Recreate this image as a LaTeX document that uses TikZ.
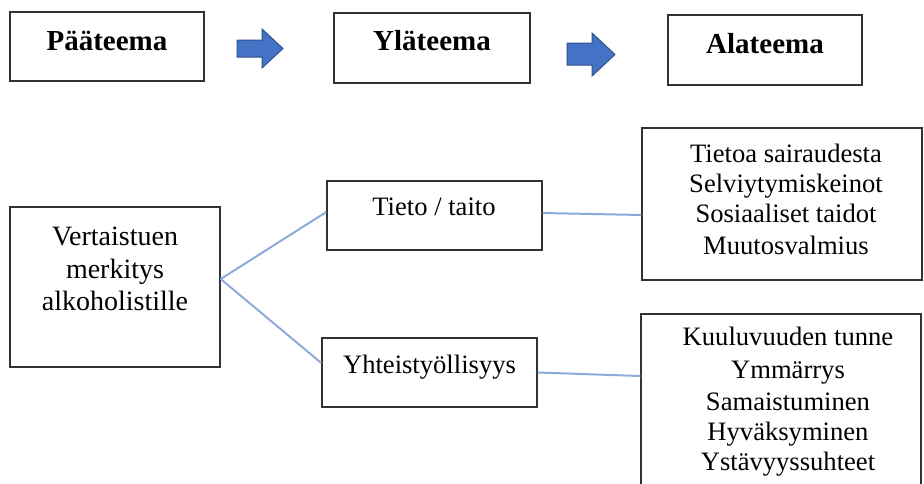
\documentclass[tikz,border=0pt]{standalone}
\usepackage{fontspec}
\setmainfont{Liberation Serif}
\definecolor{boxc}{HTML}{333333}
\definecolor{connc}{HTML}{8EAADB}
\definecolor{arrf}{HTML}{4472C4}
\definecolor{arrd}{HTML}{2F528F}
\begin{document}
\begin{tikzpicture}[x=1pt,y=-1pt,
  box/.style={draw=boxc,line width=1.4pt,inner sep=0pt,fill=white},
  hdr/.style={anchor=base,inner sep=0pt,font=\fontsize{29}{34}\selectfont\bfseries},
  txt/.style={anchor=base,inner sep=0pt,font=\fontsize{26.6}{31}\selectfont},
  bigtxt/.style={anchor=base,inner sep=0pt,font=\fontsize{28}{33}\selectfont},
  conn/.style={draw=connc,line width=2pt},
  blockarrow/.style={fill=arrf,draw=arrd,line width=1pt,line join=miter}]
\useasboundingbox (0,0) rectangle (924,483);
\begin{scope}
\clip (0,0) rectangle (924,483);
% header boxes
\node[box,minimum width=194pt,minimum height=69pt] (pb) at (107,46.5) {};
\node[box,minimum width=196pt,minimum height=70pt] (yb) at (432,48) {};
\node[box,minimum width=194pt,minimum height=70pt] (ab) at (765,50) {};
\node[hdr] (pt) at (107,50) {Pääteema};
\node[hdr] (yt) at (432,50) {Yläteema};
\node[hdr] (at) at (765,53) {Alateema};
% block arrows
\draw[blockarrow] (237,40) -- (262,40) -- (262,29) -- (283,48.5) -- (262,68) -- (262,57) -- (237,57) -- cycle;
\draw[blockarrow] (567,43) -- (592,43) -- (592,33) -- (615,54.5) -- (592,76) -- (592,65) -- (567,65) -- cycle;
% boxes
\node[box,minimum width=210pt,minimum height=160pt] (vb) at (115,287) {};
\node[box,minimum width=215pt,minimum height=69pt] (tb) at (434.5,215.5) {};
\node[box,minimum width=215pt,minimum height=69pt] (yh) at (429.5,372.5) {};
\node[box,minimum width=280pt,minimum height=152pt] (r1) at (782,204) {};
\node[box,minimum width=280pt,minimum height=186pt] (r2) at (781,407) {};
% connectors
\draw[conn] ([yshift=8pt]vb.east) -- ([yshift=3.5pt]tb.west);
\draw[conn] ([yshift=8pt]vb.east) -- ([yshift=9.5pt]yh.west);
\draw[conn] ([yshift=2.5pt]tb.east) -- ([yshift=-11pt]r1.west);
\draw[conn] (yh.east) -- ([yshift=31pt]r2.west);
% texts
\node[bigtxt] (v1) at (115,245) {Vertaistuen};
\node[bigtxt] (v2) at (115,278) {merkitys};
\node[bigtxt] (v3) at (115,310) {alkoholistille};
\node[txt] (tt) at (434,215) {Tieto / taito};
\node[txt] (yy) at (429.5,373) {Yhteistyöllisyys};
\node[txt] (a1) at (786,162) {Tietoa sairaudesta};
\node[txt] (a2) at (786,192) {Selviytymiskeinot};
\node[txt] (a3) at (786,222) {Sosiaaliset taidot};
\node[txt] (a4) at (786,254) {Muutosvalmius};
\node[txt] (b1) at (788,345) {Kuuluvuuden tunne};
\node[txt] (b2) at (788,378) {Ymmärrys};
\node[txt] (b3) at (788,410) {Samaistuminen};
\node[txt] (b4) at (788,440) {Hyväksyminen};
\node[txt] (b5) at (788,470) {Ystävyyssuhteet};
\end{scope}
\end{tikzpicture}
\end{document}
